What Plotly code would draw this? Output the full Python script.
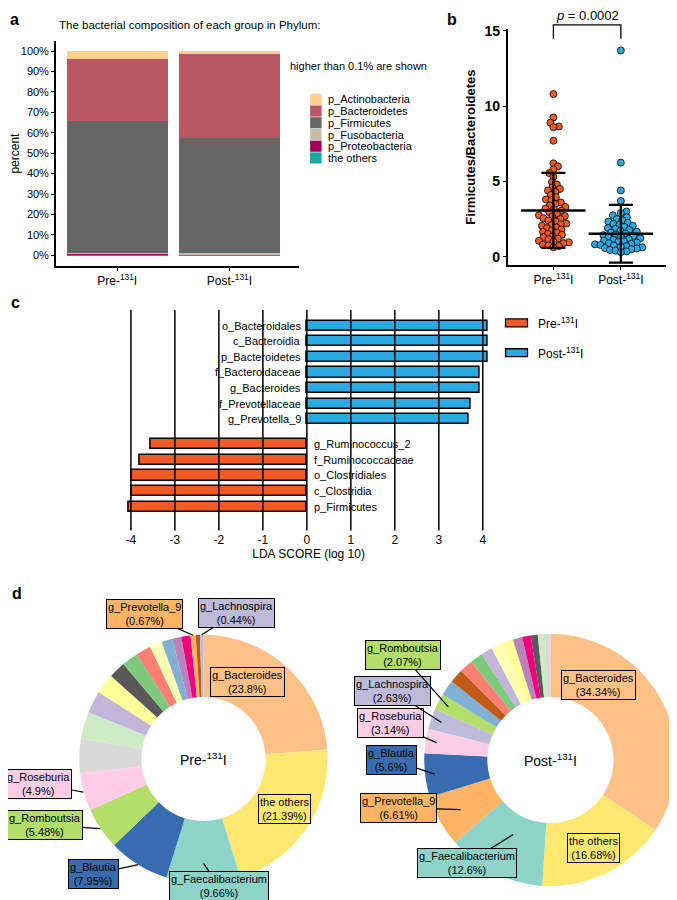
import math
import plotly.graph_objects as go

W, H = 677, 900
OFFX, OFFY = 8, 8  # the page body margin; layout coords below are picture pixels
FONT = "Liberation Sans, Arial, sans-serif"


def X(px):
    return (px - OFFX) / W


def Y(py):
    return 1 - (py - OFFY) / H


# ---------------- data ----------------
# a: phylum composition (percent)
groups = ["Pre-<sup>131</sup>I", "Post-<sup>131</sup>I"]
phyla = ["p_Actinobacteria", "p_Bacteroidetes", "p_Firmicutes",
         "p_Fusobacteria", "p_Proteobacteria", "the others"]
phyla_colors = ["#FDD38B", "#B85662", "#666666", "#C8BCAB", "#A0005C", "#18A79C"]
pre_phylum = [4.0, 30.1, 64.8, 0.2, 0.6, 0.3]
post_phylum = [1.3, 41.3, 56.1, 0.6, 0.3, 0.4]

# b: Firmicutes/Bacteroidetes ratio per sample
fb_pre = [10.8, 9.25, 8.9, 8.65, 8.6, 7.7, 6.2, 6.0, 5.8, 5.55, 5.3, 4.95, 4.8, 4.6, 4.5,
          4.4, 4.3, 4.1, 3.95, 3.8, 3.75, 3.6, 3.5, 3.4, 3.3, 3.2, 3.15, 3.05, 2.95, 2.85,
          2.75, 2.7, 2.65, 2.55, 2.5, 2.4, 2.35, 2.2, 2.15, 2.1, 2.05, 1.95, 1.9, 1.8,
          1.75, 1.65, 1.6, 1.5, 1.45, 1.35, 1.3, 1.2, 1.15, 1.05, 1.0, 0.95, 0.9, 0.8,
          0.75, 0.7, 0.62]
fb_post = [13.7, 6.25, 4.4, 3.7, 3.0, 2.9, 2.75, 2.62, 2.5, 2.42, 2.33, 2.25, 2.18, 2.12,
           2.05, 1.98, 1.9, 1.85, 1.78, 1.72, 1.66, 1.6, 1.54, 1.48, 1.43, 1.38, 1.32,
           1.27, 1.22, 1.17, 1.12, 1.06, 1.02, 0.98, 0.94, 0.9, 0.86, 0.82, 0.78, 0.74,
           0.7, 0.66, 0.62, 0.58, 0.54, 0.5, 0.45, 0.4, 0.35, 0.3]
fb_mean = [3.07, 1.52]
fb_sd = [2.49, 1.92]
p_text = "<i>p</i> = 0.0002"

# c: LEfSe LDA scores
post_taxa = ["o_Bacteroidales", "c_Bacteroidia", "p_Bacteroidetes", "f_Bacteroidaceae",
             "g_Bacteroides", "f_Prevotellaceae", "g_Prevotella_9"]
post_lda = [4.12, 4.12, 4.12, 3.93, 3.93, 3.73, 3.67]
pre_taxa = ["g_Ruminococcus_2", "f_Ruminococcaceae", "o_Clostridiales", "c_Clostridia",
            "p_Firmicutes"]
pre_lda = [-3.56, -3.80, -3.98, -3.98, -4.04]
lda_ticks = [-4, -3, -2, -1, 0, 1, 2, 3, 4]
lda_ticktext = ["-4", "-3", "-2", "-1", "0", "1", "2", "3", "4"]

# d: genus composition (percent), clockwise from 12 o'clock
genus_colors = {
    "g_Bacteroides": "#FDC086", "the others": "#FFE872", "g_Faecalibacterium": "#8DD3C7",
    "g_Blautia": "#386CB0", "g_Romboutsia": "#B3DE69", "g_Roseburia": "#FCCDE5",
    "g_Prevotella_9": "#FDB462", "g_Lachnospira": "#BEBADA",
    "genus 9": "#D9D9D9", "genus 10": "#CCEBC5", "genus 11": "#C2B5D8",
    "genus 12": "#FFFF99", "genus 13": "#595959", "genus 14": "#7FC97F",
    "genus 15": "#FB8072", "genus 16": "#FFFFB3", "genus 17": "#80B1D3",
    "genus 18": "#BC80BD", "genus 19": "#F0027F", "genus 20": "#BF5B17",
}
pre_genera = ["g_Bacteroides", "the others", "g_Faecalibacterium", "g_Blautia",
              "g_Romboutsia", "g_Roseburia", "genus 9", "genus 10", "genus 11",
              "genus 12", "genus 13", "genus 14", "genus 15", "genus 16", "genus 17",
              "genus 18", "genus 19", "g_Prevotella_9", "genus 20", "g_Lachnospira"]
pre_genus_pct = [23.8, 21.39, 9.66, 7.95, 5.48, 4.9, 4.5, 3.5, 2.9, 2.6, 2.2, 2.1, 2.0,
                 1.6, 1.4, 1.2, 1.2, 0.67, 0.55, 0.44]
post_genera = ["g_Bacteroides", "the others", "g_Faecalibacterium", "g_Prevotella_9",
               "g_Blautia", "g_Roseburia", "g_Lachnospira", "g_Romboutsia", "genus 17",
               "genus 20", "genus 15", "genus 14", "genus 11", "genus 16", "genus 12",
               "genus 18", "genus 19", "genus 13", "genus 10", "genus 9"]
post_genus_pct = [34.34, 16.68, 12.6, 6.61, 5.6, 3.14, 2.63, 2.07, 2.0, 1.8, 1.7, 1.6,
                  1.5, 1.5, 1.4, 1.2, 1.1, 0.9, 0.9, 0.7]

# label placement for the donuts (pixel centre of box, tip radius factor; None = inside)
pre_label_pos = {
    "g_Bacteroides": (246, 680, None), "the others": (283, 808, None),
    "g_Faecalibacterium": (218, 886, 0.84), "g_Blautia": (92, 874, 1.0),
    "g_Romboutsia": (43, 824, 1.0), "g_Roseburia": (37, 783, 1.0),
    "g_Prevotella_9": (143, 612, 1.0), "g_Lachnospira": (235, 611, 1.0),
}
post_label_pos = {
    "g_Bacteroides": (598, 683, None), "the others": (593, 848, None),
    "g_Faecalibacterium": (466, 863, 0.66), "g_Prevotella_9": (398, 807, 0.81),
    "g_Blautia": (391, 759, 0.92), "g_Roseburia": (390, 722, 0.91),
    "g_Lachnospira": (392, 690, 0.91), "g_Romboutsia": (402, 654, 0.91),
}

PRE_C, POST_C = "#F15A24", "#29ABE2"

fig = go.Figure()
shapes = []
annots = []


def note(px, py, text, size=11, xanchor="center", **kw):
    annots.append(dict(x=X(px), y=Y(py), xref="paper", yref="paper", text=text,
                       xanchor=xanchor, yanchor="middle", showarrow=False,
                       font=dict(size=size), **kw))


# ---------------- panel a ----------------
for i in reversed(range(len(phyla))):
    fig.add_trace(go.Bar(x=groups, y=[pre_phylum[i], post_phylum[i]], name=phyla[i],
                         marker=dict(color=phyla_colors[i], line=dict(width=0)),
                         width=0.9, xaxis="x", yaxis="y", showlegend=False))

note(55, 19, "The bacterial composition of each group in Phylum:", 11.5, "left")
note(287, 60, "higher than 0.1% are shown", 11, "left")
for i, name in enumerate(phyla):
    top = 88 + i * 11.8
    shapes.append(dict(type="rect", xref="paper", yref="paper", x0=X(309), x1=X(320.5),
                       y0=Y(top + 0.3), y1=Y(top + 11.5), fillcolor=phyla_colors[i],
                       line=dict(width=0)))
    note(325, top + 6, name, 11, "left")

# ---------------- panel b ----------------
PPU_X, PPU_Y = 67.7, 15.15


def swarm(vals, d=5.3):
    placed = []
    xs = [0.0] * len(vals)
    for i in sorted(range(len(vals)), key=lambda k: vals[k]):
        y = vals[i] * PPU_Y
        found = None
        k = 0
        while found is None:
            for s in ([1] if k == 0 else ([1, -1] if k % 2 else [-1, 1])):
                x = s * k * 0.5
                if all((x - px) ** 2 + (y - py) ** 2 >= d * d for px, py in placed):
                    found = x
                    break
            k += 1
        placed.append((found, y))
        xs[i] = found / PPU_X
    return xs


for gi, (vals, col) in enumerate([(fb_pre, PRE_C), (fb_post, POST_C)]):
    offs = swarm(vals)
    fig.add_trace(go.Scatter(x=[gi + o for o in offs], y=vals, mode="markers",
                             marker=dict(size=7, color=col, line=dict(color="black", width=0.8)),
                             xaxis="x2", yaxis="y2", showlegend=False))
fig.add_trace(go.Scatter(x=[0, 1], y=fb_mean, mode="markers",
                         marker=dict(symbol="line-ew", size=46,
                                     line=dict(color="black", width=2.5)),
                         error_y=dict(type="data", array=fb_sd, visible=True, color="black",
                                      thickness=2.2, width=12),
                         xaxis="x2", yaxis="y2", showlegend=False))
shapes.append(dict(type="path", xref="x2", yref="paper",
                   path=f"M 0,{Y(33)} L 0,{Y(19)} L 1,{Y(19)} L 1,{Y(33)}",
                   line=dict(color="black", width=1.3)))
annots.append(dict(x=0.5, y=Y(10), xref="x2", yref="paper", text=p_text,
                   xanchor="center", yanchor="middle", showarrow=False, font=dict(size=13)))

# ---------------- panel c ----------------
GAP = 0.6
post_y = list(range(len(post_taxa)))
pre_y = [len(post_taxa) + GAP + i for i in range(len(pre_taxa))]
fig.add_trace(go.Bar(x=post_lda, y=post_y, orientation="h", width=0.65,
                     marker=dict(color=POST_C, line=dict(color="black", width=1.5)),
                     xaxis="x3", yaxis="y3", showlegend=False))
fig.add_trace(go.Bar(x=pre_lda, y=pre_y, orientation="h", width=0.65,
                     marker=dict(color=PRE_C, line=dict(color="black", width=1.5)),
                     xaxis="x3", yaxis="y3", showlegend=False))
for v in lda_ticks:
    shapes.append(dict(type="line", xref="x3", yref="y3 domain", x0=v, x1=v, y0=0, y1=1,
                       layer="above", line=dict(color="black", width=1.5)))
for name, yy in zip(post_taxa, post_y):
    annots.append(dict(x=0, y=yy, xref="x3", yref="y3", text=name, xanchor="right",
                       yanchor="middle", xshift=-4, showarrow=False, font=dict(size=11)))
for name, yy in zip(pre_taxa, pre_y):
    annots.append(dict(x=0, y=yy, xref="x3", yref="y3", text=name, xanchor="left",
                       yanchor="middle", xshift=5, showarrow=False, font=dict(size=11)))
for gi, (label, col) in enumerate(zip(groups, [PRE_C, POST_C])):
    cy = 319 + gi * 30
    shapes.append(dict(type="rect", xref="paper", yref="paper", x0=X(505), x1=X(527),
                       y0=Y(cy - 4), y1=Y(cy + 4), fillcolor=col,
                       line=dict(color="black", width=1.3)))
    note(536, cy, label, 12, "left")

# ---------------- panel d ----------------
donuts = [
    (pre_genera, pre_genus_pct, pre_label_pos, (202, 758), 125, groups[0]),
    (post_genera, post_genus_pct, post_label_pos, (550, 759), 127, groups[1]),
]
for genera, pct, lpos, (cx, cy), r, title in donuts:
    fig.add_trace(go.Pie(labels=genera, values=pct, hole=0.5, sort=False,
                         direction="clockwise", textinfo="none",
                         marker=dict(colors=[genus_colors[g] for g in genera],
                                     line=dict(width=0)),
                         domain=dict(x=[X(cx - r), X(cx + r)], y=[Y(cy + r), Y(cy - r)]),
                         showlegend=False))
    note(cx, cy, title, 14)
    total = sum(pct)
    cum = 0.0
    for g, v in zip(genera, pct):
        mid = (cum + v / 2) / total * 2 * math.pi
        cum += v
        if g not in lpos:
            continue
        lx, ly, f = lpos[g]
        box = dict(text=f"{g}<br>({v}%)", xref="paper", yref="paper",
                   bgcolor=genus_colors[g], bordercolor="black", borderwidth=1,
                   borderpad=1, font=dict(size=11))
        if f is None:
            annots.append(dict(x=X(lx), y=Y(ly), showarrow=False, xanchor="center",
                               yanchor="middle", **box))
        else:
            tx = cx + f * r * math.sin(mid)
            ty = cy - f * r * math.cos(mid)
            annots.append(dict(x=X(tx), y=Y(ty), showarrow=True, arrowhead=0,
                               arrowwidth=1.2, arrowcolor="black", standoff=0,
                               ax=lx - tx, ay=ly - ty, **box))

# panel letters
for letter, (lx, ly) in zip("abcd", [(13, 14), (451, 14), (14, 298), (15, 591)]):
    note(lx, ly, f"<b>{letter}</b>", 16)

line_axis = dict(showline=True, linecolor="black", linewidth=1.5, ticks="outside",
                 tickcolor="black", tickwidth=1.2, ticklen=3, showgrid=False,
                 zeroline=False)

fig.update_layout(
    width=W, height=H, margin=dict(l=0, r=0, t=0, b=0),
    paper_bgcolor="white", plot_bgcolor="white",
    font=dict(family=FONT, color="black"),
    barmode="relative", bargap=0,
    xaxis=dict(domain=[X(54), X(298)], anchor="y", type="category",
               range=[-0.547, 1.622], tickfont=dict(size=12), **line_axis),
    yaxis=dict(domain=[Y(262), Y(35)], anchor="x", range=[-5.35, 105],
               tickvals=list(range(0, 101, 10)),
               ticktext=[f"{v}%" for v in range(0, 101, 10)],
               tickfont=dict(size=11),
               title=dict(text="percent", font=dict(size=12), standoff=4),
               **line_axis),
    xaxis2=dict(domain=[X(507), X(666)], anchor="y2", range=[-0.68, 1.67],
                tickvals=[0, 1], ticktext=groups, tickfont=dict(size=12), **line_axis),
    yaxis2=dict(domain=[Y(261), Y(23)], anchor="x2", range=[-0.574, 15.13],
                tickvals=[0, 5, 10, 15],
                ticktext=["<b>0</b>", "<b>5</b>", "<b>10</b>", "<b>15</b>"],
                tickfont=dict(size=14),
                title=dict(text="<b>Firmicutes/Bacteroidetes</b>", font=dict(size=13),
                           standoff=6),
                **line_axis),
    xaxis3=dict(domain=[X(120), X(495)], anchor="y3", range=[-4.21, 4.29],
                tickvals=lda_ticks, ticktext=lda_ticktext, ticks="", showline=False,
                showgrid=False, zeroline=False, tickfont=dict(size=12),
                title=dict(text="LDA SCORE (log 10)", font=dict(size=12), standoff=4)),
    yaxis3=dict(domain=[Y(528), Y(306)], anchor="x3", range=[13.13, -1.0], visible=False),
    shapes=shapes, annotations=annots,
)

fig.write_html("out.html")
